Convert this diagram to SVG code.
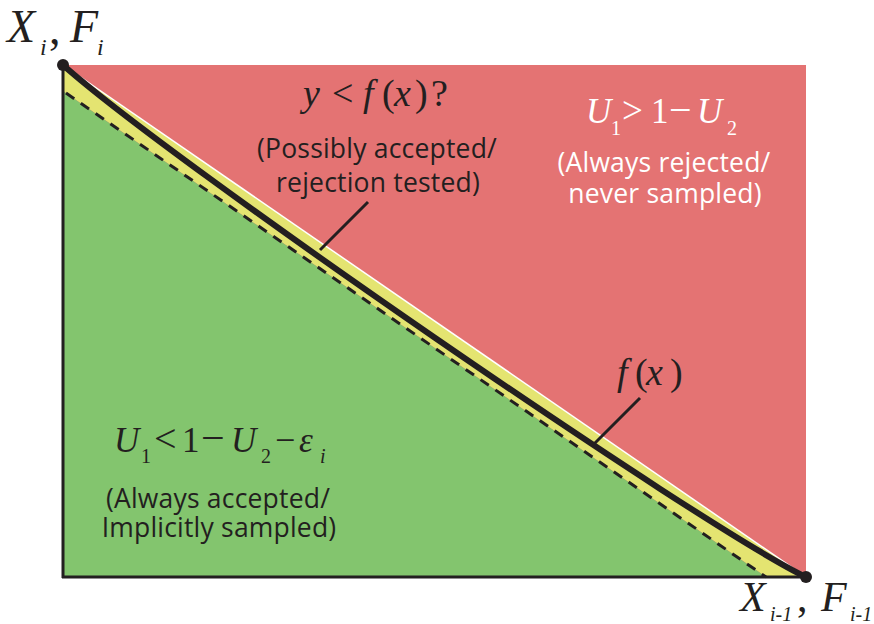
<svg xmlns="http://www.w3.org/2000/svg" width="874" height="624" viewBox="0 0 874 624">
<style>
.math{font-family:"Liberation Serif","DejaVu Serif",serif;}
.it{font-style:italic;}
.sans{font-family:"Open Sans","Noto Sans",sans-serif;font-size:26.5px;letter-spacing:0.2px;text-anchor:middle;}
.dark{fill:#231f20;}
.white{fill:#ffffff;}
.leader{stroke:#231f20;stroke-width:3;fill:none;}
</style>
<g id="regions">
<rect id="rejected-region" x="63" y="65" width="743" height="512" fill="#e47373"/>
<path id="tested-region" d="M63,65 L806,577 L766,577 L63,91 Z" fill="#e4e471"/>
<path id="accepted-region" d="M63,91 L766,577 L63,577 Z" fill="#83c56e"/>
<line x1="63" y1="65" x2="806" y2="577" stroke="#ffffff" stroke-width="1.5"/>
</g>
<g id="connectors">
<line id="lower-bound" x1="66" y1="93" x2="766" y2="577" stroke="#231f20" stroke-width="3" stroke-dasharray="10,8"/>
<path id="fx-curve" d="M63,65 C170,160.7 700,525.9 806,577" stroke="#231f20" stroke-width="6" fill="none"/>
<line x1="63" y1="65" x2="63" y2="578" stroke="#231f20" stroke-width="3"/>
<line x1="62" y1="577" x2="806" y2="577" stroke="#231f20" stroke-width="3"/>
<line class="leader" x1="368" y1="202" x2="320" y2="250"/>
<line class="leader" x1="640" y1="398" x2="593" y2="445"/>
</g>
<g id="corner-top">
<circle cx="63" cy="65" r="6" fill="#231f20"/>
<text class="math dark" y="42" font-size="46"><tspan class="it" x="7">X</tspan><tspan class="it" x="40" y="55" font-size="24">i</tspan><tspan x="49" y="44">,</tspan><tspan class="it" x="70" y="42">F</tspan><tspan class="it" x="97" y="55" font-size="24">i</tspan></text>
</g>
<g id="corner-bottom">
<circle cx="806" cy="577" r="6" fill="#231f20"/>
<text class="math dark" y="611" font-size="42"><tspan class="it" x="740">X</tspan><tspan class="it" x="770" y="621" font-size="20">i-1</tspan><tspan x="797" y="611">,</tspan><tspan class="it" x="821">F</tspan><tspan class="it" x="850" y="621" font-size="20">i-1</tspan></text>
</g>
<g id="tested-label">
<text class="math dark" y="106" font-size="38"><tspan class="it" x="303">y</tspan><tspan x="332">&lt;</tspan><tspan class="it" x="363">f</tspan><tspan x="382">(</tspan><tspan class="it" x="394">x</tspan><tspan x="415">)</tspan><tspan x="431">?</tspan></text>
<text class="sans dark" x="377" y="158">(Possibly accepted/</text>
<text class="sans dark" x="378" y="192">rejection tested)</text>
</g>
<g id="rejected-label">
<text class="math white" y="123" font-size="35"><tspan class="it" x="586">U</tspan><tspan x="611" y="135" font-size="20">1</tspan><tspan x="622" y="123" font-size="37">&gt;</tspan><tspan x="651">1</tspan><tspan x="669" font-size="40">−</tspan><tspan class="it" x="697">U</tspan><tspan x="727" y="135" font-size="20">2</tspan></text>
<text class="sans white" x="664" y="172">(Always rejected/</text>
<text class="sans white" x="665" y="203">never sampled)</text>
</g>
<g id="accepted-label">
<text class="math dark" y="452" font-size="35"><tspan class="it" x="114">U</tspan><tspan x="141" y="463" font-size="20">1</tspan><tspan x="154" y="452" font-size="40">&lt;</tspan><tspan x="182">1</tspan><tspan x="201" font-size="42">−</tspan><tspan class="it" x="231">U</tspan><tspan x="261" y="463" font-size="20">2</tspan><tspan x="275" y="452" font-size="36">−</tspan><tspan class="it" x="299">ε</tspan><tspan class="it" x="320" y="463" font-size="20">i</tspan></text>
<text class="sans dark" x="218" y="508">(Always accepted/</text>
<text class="sans dark" x="219" y="537">Implicitly sampled)</text>
</g>
<g id="fx-label">
<text class="math dark" y="385" font-size="38"><tspan class="it" x="617">f</tspan><tspan x="635">(</tspan><tspan class="it" x="646">x</tspan><tspan x="670">)</tspan></text>
</g>
</svg>
